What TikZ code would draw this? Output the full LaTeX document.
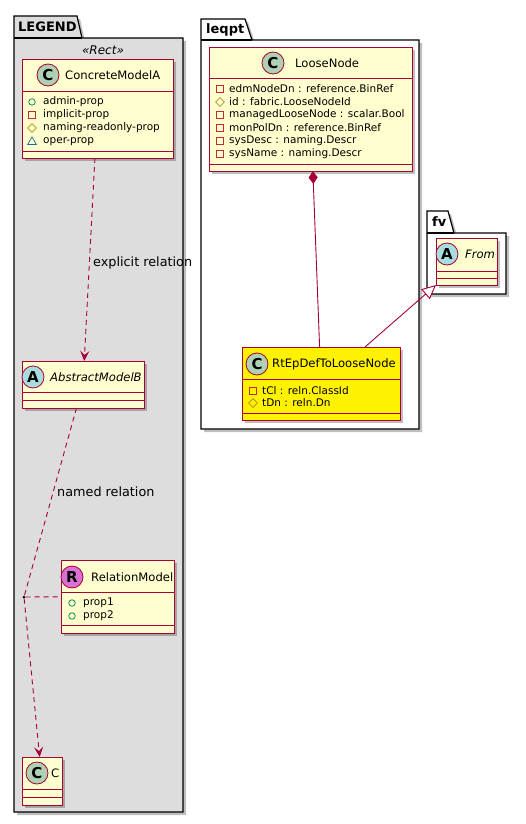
\documentclass[tikz,border=0pt]{standalone}
\usepackage{fontspec}
\setmainfont{DejaVu Sans}
\usetikzlibrary{arrows.meta,shapes.geometric,shadows,calc}

\definecolor{umlred}{HTML}{A80036}
\definecolor{umlfill}{HTML}{FEFECE}
\definecolor{legendgrey}{HTML}{DDDDDD}
\definecolor{spotc}{HTML}{ADD1B2}
\definecolor{spota}{HTML}{A9DCDF}
\definecolor{spotr}{HTML}{DA70D6}
\definecolor{vispub}{HTML}{038048}
\definecolor{vispriv}{HTML}{C82930}
\definecolor{visprot}{HTML}{B38D22}
\definecolor{vispkg}{HTML}{1963A0}

\tikzset{
  umlshadow/.style = {drop shadow = {shadow xshift=3pt, shadow yshift=-3pt,
      opacity=.25, fill=black}},
  pkg/.style       = {draw, line width=1.2pt, fill=white, umlshadow},
  pkgtitle/.style  = {anchor=west, inner sep=0, font=\fontsize{13}{13}\selectfont\bfseries},
  cls/.style       = {draw=umlred, fill=umlfill, line width=.9pt, rectangle,
      anchor=north west, inner sep=0, outer sep=0, umlshadow},
  sep/.style       = {draw=umlred, line width=.9pt},
  spot/.style      = {circle, draw=umlred, line width=.8pt, minimum size=22pt,
      inner sep=0, font=\fontsize{15}{15}\selectfont\bfseries},
  clsname/.style   = {anchor=west, inner sep=0, font=\fontsize{11.6}{12}\selectfont},
  attr/.style      = {anchor=west, inner sep=0, font=\fontsize{10.5}{11}\selectfont},
  pub/.style       = {circle, draw=vispub, line width=.7pt, minimum size=6.5pt, inner sep=0},
  priv/.style      = {rectangle, draw=vispriv, line width=.7pt, minimum size=6.5pt, inner sep=0},
  prot/.style      = {diamond, draw=visprot, line width=.7pt, minimum size=9pt, inner sep=0},
  pkgvis/.style    = {regular polygon, regular polygon sides=3, draw=vispkg,
      line width=.7pt, minimum size=10pt, inner sep=0},
  rel/.style       = {draw=umlred, line width=.9pt},
  dashrel/.style   = {rel, dash pattern=on 5pt off 4pt},
  rellabel/.style  = {anchor=west, inner sep=0, font=\fontsize{12.8}{13}\selectfont},
  openhead/.style  = {-{Stealth[length=10pt, width=9pt, inset=4pt]}}
}

\begin{document}
\begin{tikzpicture}[x=1pt, y=-1pt]
  \useasboundingbox (0,0) rectangle (526,824);

  % packages
  \draw[pkg, fill=legendgrey] (14,16) -- (77,16) -- (82,38) -- (183,38)
      -- (183,812) -- (14,812) -- cycle;
  \draw[line width=1.2pt] (14,38) -- (82,38);
  \node[pkgtitle] (legendname) at (18,27) {LEGEND};
  \node[inner sep=0, font=\fontsize{12}{12}\selectfont\itshape] (legendst) at (103,50) {«Rect»};

  \draw[pkg] (201,19) -- (245,19) -- (252,40) -- (419,40)
      -- (419,429) -- (201,429) -- cycle;
  \draw[line width=1.2pt] (201,40) -- (252,40);
  \node[pkgtitle] (leqptname) at (206,30) {leqpt};

  \draw[pkg] (427,211) -- (448,211) -- (454,233) -- (506,233)
      -- (506,294) -- (427,294) -- cycle;
  \draw[line width=1.2pt] (427,233) -- (454,233);
  \node[pkgtitle] (fvname) at (432,222) {fv};

  % ConcreteModelA
  \node[cls, minimum width=151pt, minimum height=99pt] (cma) at (22,59) {};
  \draw[sep] (22,91) -- (173,91);
  \draw[sep] (22,151) -- (173,151);
  \node[spot, fill=spotc] (cmaspot) at (48,75) {C};
  \node[clsname] (cmaname) at (65,75) {ConcreteModelA};
  \node[pub] (cmav1) at (32,102) {};
  \node[attr] (cmaa1) at (43,102) {admin-prop};
  \node[priv] (cmav2) at (32,115) {};
  \node[attr] (cmaa2) at (43,115) {implicit-prop};
  \node[prot] (cmav3) at (32,128) {};
  \node[attr] (cmaa3) at (43,128) {naming-readonly-prop};
  \node[pkgvis] (cmav4) at (32,142) {};
  \node[attr] (cmaa4) at (43,142) {oper-prop};

  % AbstractModelB
  \node[cls, minimum width=122pt, minimum height=47pt] (amb) at (22,361) {};
  \draw[sep] (22,392) -- (144,392);
  \draw[sep] (22,400) -- (144,400);
  \node[spot, fill=spota] (ambspot) at (33,377) {A};
  \node[clsname, font=\fontsize{11.6}{12}\selectfont\itshape] (ambname) at (50,377) {AbstractModelB};

  % RelationModel
  \node[cls, minimum width=113pt, minimum height=73pt] (relm) at (61,560) {};
  \draw[sep] (61,592) -- (174,592);
  \draw[sep] (61,625) -- (174,625);
  \node[spot, fill=spotr] (relmspot) at (72,577) {R};
  \node[clsname] (relmname) at (91,577) {RelationModel};
  \node[pub] (relmv1) at (72,603) {};
  \node[attr] (relma1) at (83,603) {prop1};
  \node[pub] (relmv2) at (72,616) {};
  \node[attr] (relma2) at (83,616) {prop2};

  % C
  \node[cls, minimum width=40pt, minimum height=48pt] (cc) at (22,757) {};
  \draw[sep] (22,789) -- (62,789);
  \draw[sep] (22,797) -- (62,797);
  \node[spot, fill=spotc] (ccspot) at (37,773) {C};
  \node[clsname] (ccname) at (51,773) {C};

  % LooseNode
  \node[cls, minimum width=203pt, minimum height=124pt] (loose) at (209,47) {};
  \draw[sep] (209,78) -- (412,78);
  \draw[sep] (209,164) -- (412,164);
  \node[spot, fill=spotc] (loosespot) at (273,63) {C};
  \node[clsname] (loosename) at (295,63) {LooseNode};
  \node[priv] (loosev1) at (220,89) {};
  \node[attr] (loosea1) at (229,89) {edmNodeDn : reference.BinRef};
  \node[prot] (loosev2) at (220,102) {};
  \node[attr] (loosea2) at (229,102) {id : fabric.LooseNodeId};
  \node[priv] (loosev3) at (220,115) {};
  \node[attr] (loosea3) at (229,115) {managedLooseNode : scalar.Bool};
  \node[priv] (loosev4) at (220,128) {};
  \node[attr] (loosea4) at (229,128) {monPolDn : reference.BinRef};
  \node[priv] (loosev5) at (220,141) {};
  \node[attr] (loosea5) at (229,141) {sysDesc : naming.Descr};
  \node[priv] (loosev6) at (220,154) {};
  \node[attr] (loosea6) at (229,154) {sysName : naming.Descr};

  % RtEpDefToLooseNode
  \node[cls, fill=yellow, minimum width=158pt, minimum height=73pt] (rtep) at (242,347) {};
  \draw[sep] (242,379) -- (400,379);
  \draw[sep] (242,413) -- (400,413);
  \node[spot, fill=spotc] (rtepspot) at (257,364) {C};
  \node[clsname] (rtepname) at (272,364) {RtEpDefToLooseNode};
  \node[priv] (rtepv1) at (253,391) {};
  \node[attr] (rtepa1) at (262,391) {tCl : reln.ClassId};
  \node[prot] (rtepv2) at (253,403) {};
  \node[attr] (rtepa2) at (262,403) {tDn : reln.Dn};

  % From
  \node[cls, minimum width=61pt, minimum height=47pt] (from) at (436,238) {};
  \draw[sep] (436,271) -- (497,271);
  \draw[sep] (436,278) -- (497,278);
  \node[spot, fill=spota] (fromspot) at (447,254) {A};
  \node[clsname, font=\fontsize{11.6}{12}\selectfont\itshape] (fromname) at (465,254) {From};

  % relations
  \draw[dashrel, openhead] (cma) -- (amb);
  \node[rellabel] (explicitlbl) at (93,263) {explicit relation};

  \node[circle, fill=black, minimum size=3pt, inner sep=0] (assoc) at (24,597) {};
  \draw[dashrel] (amb) -- (assoc);
  \draw[dashrel, openhead] (assoc) -- (cc);
  \draw[dashrel] (assoc) -- (relm);
  \node[rellabel] (namedlbl) at (57,492) {named relation};

  \draw[rel, {Diamond[length=13pt, width=9pt, fill=umlred]}-] (loose) -- (rtep);
  \draw[rel, -{Triangle[length=14pt, width=13pt, fill=white]}]
      ($(rtep.north)+(44,0)$) -- (from.south west);
\end{tikzpicture}
\end{document}
